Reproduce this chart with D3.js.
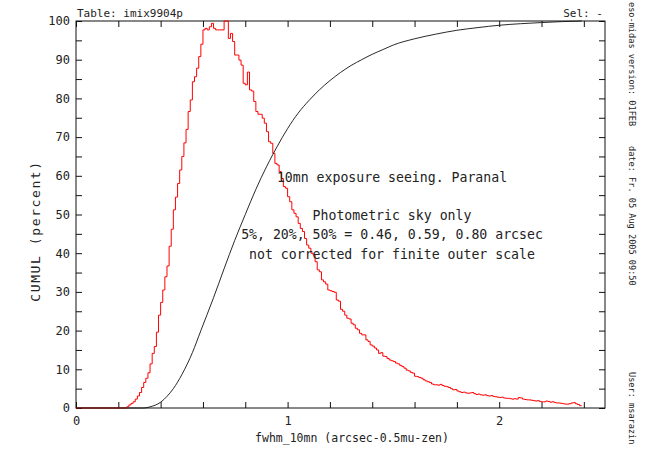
<!DOCTYPE html>
<html>
<head>
<meta charset="utf-8">
<script src="https://cdn.jsdelivr.net/npm/d3@7"></script>
<style>
  html, body { margin: 0; padding: 0; background: #fff; }
  svg text { font-family: "DejaVu Sans Mono", "Liberation Mono", monospace; fill: #222; }
</style>
</head>
<body>
<svg id="chart" width="646" height="450"></svg>
<script>
// Seeing histogram (percent of peak), bins of 0.01 arcsec starting at 0.24
const binStart = 0.24;
const binWidth = 0.01;
const seeingHist = [
  0.3, 0.8, 1.2, 1.6, 2.3, 3.1, 4.0, 5.3, 6.6, 7.7,            // 0.24-0.33
  9.1, 11.4, 14.1, 15.9, 19.6, 24.0, 27.3, 30.5, 33.9, 36.7,   // 0.34-0.43
  41.8, 46.2, 51.2, 54.5, 58.0, 61.5, 65.0, 68.5, 72.0, 76.6,  // 0.44-0.53
  79.6, 84.3, 85.6, 87.8, 90.8, 94.0, 97.7, 98.1, 97.7, 98.5,  // 0.54-0.63
  99.4, 98.1, 97.7, 97.7, 97.7, 97.7, 100, 100, 95.5, 96.8,    // 0.64-0.73
  94.7, 91.2, 91.2, 89.9, 88.6, 83.9, 83.5, 86.8, 82.2, 81.9,  // 0.74-0.83
  79.2, 76.6, 75.9, 75.9, 74.9, 73.6, 71.4, 68.8, 68.4, 65.8,  // 0.84-0.93
  63.2, 62.8, 61.1, 59.3, 57.2, 56.8, 54.6, 53.3, 51.2, 50.3,  // 0.94-1.03
  49.4, 47.7, 46.4, 45.6, 43.8, 42.1, 41.3, 40.0, 39.6, 37.8,  // 1.04-1.13
  35.7, 35.2, 33.1, 32.6, 32.0, 30.5, 30.3, 30.1, 29.9, 27.9,  // 1.14-1.23
  27.6, 25.5, 25.0, 24.0, 23.2, 23.0, 21.9, 21.5, 20.6, 20.2,  // 1.24-1.33
  19.3, 18.9, 18.9, 17.6, 17.2, 16.3, 16.0, 15.5, 15.0, 14.1,  // 1.34-1.43
  14.3, 13.4, 13.3, 12.8, 12.4, 12.2, 12.0, 11.6, 11.4, 11.0,  // 1.44-1.53
  10.7, 10.3, 9.8, 9.6, 9.2, 9.0, 8.2, 8.1, 7.9, 7.7,          // 1.54-1.63
  7.3, 7.0, 6.8, 6.6, 6.2, 6.0, 6.0, 5.9, 6.1, 5.8,            // 1.64-1.73
  5.6, 5.5, 5.3, 5.0, 4.7, 4.8, 4.4, 4.2, 4.0, 4.1,            // 1.74-1.83
  3.9, 3.8, 3.9, 4.0, 3.7, 3.5, 3.6, 3.4, 3.3, 3.4,            // 1.84-1.93
  3.2, 3.1, 3.2, 3.0, 2.9, 2.8, 2.7, 2.8, 2.6, 2.5,            // 1.94-2.03
  2.5, 2.4, 2.3, 2.4, 2.3, 2.7, 2.6, 2.3, 2.2, 2.1,            // 2.04-2.13
  2.1, 2.0, 1.9, 1.8, 1.9, 1.7, 1.6, 1.6, 1.8, 1.7,            // 2.14-2.23
  1.5, 1.6, 1.4, 1.3, 1.3, 1.2, 1.1, 1.0, 1.0, 1.1,            // 2.24-2.33
  1.3, 1.4, 1.1, 0.9, 0.6                                       // 2.34-2.38
];

// Cumulative distribution (percent)
const cumulSeeing = [0.00, 0.30, 0.32, 0.35, 0.40, 0.43, 0.46, 0.50, 0.55, 0.59,
                     0.65, 0.70, 0.75, 0.80, 0.85, 0.90, 0.93, 0.95, 1.00, 1.05,
                     1.10, 1.15, 1.20, 1.25, 1.30, 1.35, 1.40, 1.45, 1.50, 1.60,
                     1.70, 1.80, 1.90, 2.00, 2.10, 2.20, 2.30, 2.39];
const cumulPercent = [0, 0, 0, 0.3, 1.5, 3.0, 5.0, 8.6, 14.3, 20.0,
                      28.5, 36.0, 43.3, 50.0, 56.5, 62.3, 65.5, 67.5, 72.2, 76.2,
                      79.4, 82.2, 84.6, 86.7, 88.5, 90.0, 91.4, 92.6, 93.8, 95.4,
                      96.6, 97.6, 98.3, 98.9, 99.3, 99.6, 99.85, 100];

const xTickLabels = ["0", "1", "2"];
const yTickLabels = ["0", "10", "20", "30", "40", "50", "60", "70", "80", "90", "100"];

const headerLeft = "Table: imix9904p";
const headerRight = "Sel: -";
const xTitle = "fwhm_10mn (arcsec-0.5mu-zen)";
const yTitle = "CUMUL (percent)";
const annotations = [
  "10mn exposure seeing. Paranal",
  "Photometric sky only",
  "5%, 20%, 50% = 0.46, 0.59, 0.80 arcsec",
  "not corrected for finite outer scale"
];
const sideNotes = ["eso-midas version: 01FEB", "date: Fr. 05 Aug 2005 09:50", "User: msarazin"];

// ---- layout ----
const svg = d3.select("#chart");
const m = { left: 76, right: 605, top: 21, bottom: 408 };

const x = d3.scaleLinear().domain([0, 2.5]).range([m.left, m.right]);
const y = d3.scaleLinear().domain([0, 100]).range([m.bottom, m.top]);

const xTicks = d3.range(0, 13).map(i => i * 0.2);
const yTicks = d3.range(0, 21).map(i => i * 5);

function styleAxis(g) {
  g.select(".domain").remove();
  g.selectAll(".tick line").attr("stroke", "#111").attr("stroke-width", 1);
  g.selectAll(".tick text").style("font-size", "12px").attr("fill", "#222");
}

// bottom axis with labels at integers
svg.append("g")
  .attr("transform", `translate(0,${m.bottom})`)
  .call(d3.axisBottom(x).tickValues(xTicks).tickSize(-6).tickPadding(8)
    .tickFormat(d => {
      const k = Math.round(d * 10) / 10;
      return Number.isInteger(k) ? xTickLabels[k] : "";
    }))
  .call(styleAxis);

// left axis with labels every 10
svg.append("g")
  .attr("transform", `translate(${m.left},0)`)
  .call(d3.axisLeft(y).tickValues(yTicks).tickSize(-6).tickPadding(6)
    .tickFormat(d => (d % 10 === 0 ? yTickLabels[d / 10] : "")))
  .call(styleAxis);

// top and right axes: ticks only
svg.append("g")
  .attr("transform", `translate(0,${m.top})`)
  .call(d3.axisTop(x).tickValues(xTicks).tickSize(-6).tickFormat(""))
  .call(styleAxis);
svg.append("g")
  .attr("transform", `translate(${m.right},0)`)
  .call(d3.axisRight(y).tickValues(yTicks).tickSize(-6).tickFormat(""))
  .call(styleAxis);

// frame
svg.append("rect")
  .attr("x", m.left).attr("y", m.top)
  .attr("width", m.right - m.left).attr("height", m.bottom - m.top)
  .attr("fill", "none").attr("stroke", "#111").attr("stroke-width", 1);

// histogram as a stepped line
const histPts = [[0, 0]];
seeingHist.forEach((v, i) => histPts.push([binStart + i * binWidth, v]));
histPts.push([binStart + seeingHist.length * binWidth, seeingHist[seeingHist.length - 1]]);

svg.append("path")
  .datum(histPts)
  .attr("fill", "none")
  .attr("stroke", "#ff0000")
  .attr("stroke-width", 1)
  .attr("d", d3.line().x(d => x(d[0])).y(d => y(d[1])).curve(d3.curveStepAfter));

// cumulative curve
const cumPts = cumulSeeing.map((s, i) => [s, cumulPercent[i]]);
svg.append("path")
  .datum(cumPts)
  .attr("fill", "none")
  .attr("stroke", "#111")
  .attr("stroke-width", 0.9)
  .attr("d", d3.line().x(d => x(d[0])).y(d => y(d[1])).curve(d3.curveMonotoneX));

// header texts
svg.append("text").attr("x", m.left + 1).attr("y", 17)
  .style("font-size", "11px").text(headerLeft);
svg.append("text").attr("x", m.right - 2).attr("y", 17).attr("text-anchor", "end")
  .style("font-size", "11px").text(headerRight);

// axis titles
svg.append("text").attr("x", 352).attr("y", 442).attr("text-anchor", "middle")
  .style("font-size", "11.5px").text(xTitle);
svg.append("text").attr("transform", "translate(40,231) rotate(-90)")
  .attr("text-anchor", "middle").style("font-size", "13px")
  .style("letter-spacing", "1.6px").text(yTitle);

// annotation block
const annY = [182, 220, 239, 259];
annotations.forEach((t, i) => {
  svg.append("text").attr("x", 392).attr("y", annY[i]).attr("text-anchor", "middle")
    .style("font-size", "13.2px").text(t);
});

// vertical side notes
const sideY = [2, 146, 372];
sideNotes.forEach((t, i) => {
  svg.append("text").attr("transform", `translate(629,${sideY[i]}) rotate(90)`)
    .style("font-size", "8.6px").text(t);
});
</script>
</body>
</html>
